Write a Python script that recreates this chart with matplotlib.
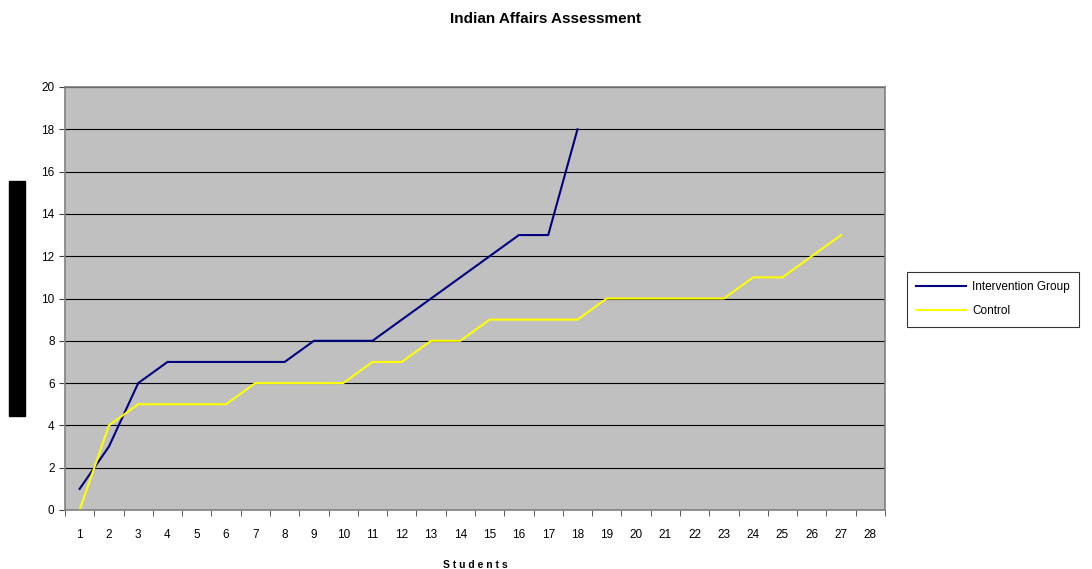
import matplotlib.pyplot as plt
from matplotlib.patches import Rectangle

# データ
intervention = [1, 3, 6, 7, 7, 7, 7, 7, 8, 8, 8, 9, 10, 11, 12, 13, 13, 18]
control = [0, 4, 5, 5, 5, 5, 6, 6, 6, 6, 7, 7, 8, 8, 9, 9, 9, 9, 10, 10, 10, 10, 10, 11, 11, 12, 13]
categories = list(range(1, 29))

plt.rcParams['font.family'] = ['Liberation Sans', 'DejaVu Sans']

fig = plt.figure(figsize=(10.92, 5.69), dpi=100)
ax = fig.add_axes([65 / 1092, 1 - 510 / 569, 820 / 1092, 423 / 569])
ax.set_facecolor('#c0c0c0')

ax.plot(categories[:len(intervention)], intervention, color='#000080', lw=1.5, label='Intervention Group')
ax.plot(categories[:len(control)], control, color='#ffff00', lw=1.5, label='Control')

ax.set_xlim(0.5, 28.5)
ax.set_ylim(0, 20)
ax.set_yticks(range(0, 21, 2))
ax.set_xticks(categories)
ax.set_xticks([c - 0.5 for c in categories] + [28.5], minor=True)
ax.tick_params(axis='x', which='major', length=0, labelsize=8.5, pad=14)
ax.tick_params(axis='x', which='minor', length=4, color='#404040')
ax.tick_params(axis='y', length=4, labelsize=8.5, color='#404040')
ax.yaxis.grid(True, color='black', lw=0.8)
ax.set_axisbelow(True)
for s in ax.spines.values():
    s.set_color('#808080')
    s.set_linewidth(1.2)

ax.set_xlabel('S t u d e n t s', fontsize=7.5, fontweight='bold', labelpad=13)
fig.text(545 / 1092, 1 - 19 / 569, 'Indian Affairs Assessment', ha='center', va='center',
         fontsize=11, fontweight='bold')

# 塗りつぶされたY軸ラベル
fig.patches.append(Rectangle((9 / 1092, 1 - 416 / 569), 16 / 1092, 235 / 569,
                             transform=fig.transFigure, color='black'))

leg = fig.legend(loc='upper left', bbox_to_anchor=(907 / 1092, 1 - 272 / 569),
                 fontsize=8.5, frameon=True, fancybox=False, edgecolor='black',
                 borderaxespad=0, handlelength=4.2, handletextpad=0.5,
                 borderpad=0.8, labelspacing=1.0)
leg.get_frame().set_linewidth(0.8)

fig.savefig('out.png', dpi=100)
